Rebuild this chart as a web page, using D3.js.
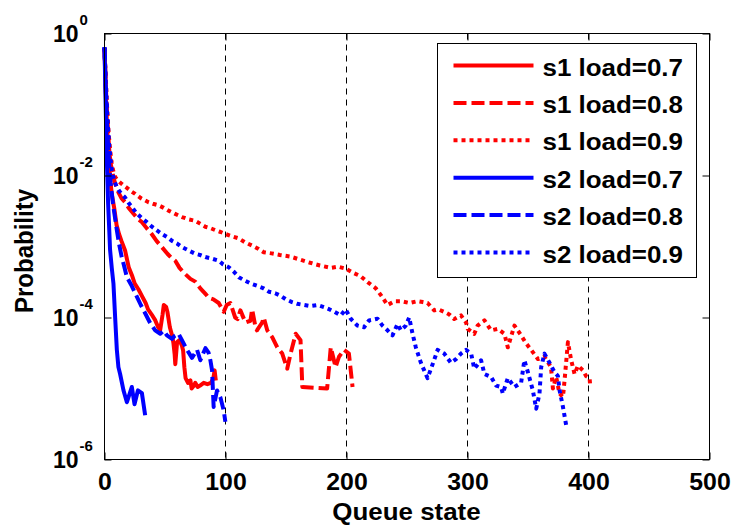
<!DOCTYPE html>
<html>
<head>
<meta charset="utf-8">
<script src="https://cdn.jsdelivr.net/npm/d3@7"></script>
<style>
  body { margin: 0; background: #fff; }
  svg text { font-family: Arial, "Liberation Sans", sans-serif; font-weight: bold; fill: #000; }
</style>
</head>
<body>
<div id="chart"></div>
<script>
// stationary queue distributions: [queue state, probability]
var s1Load07 = [[0,0.62],[1,0.15],[2,0.055],[3,0.025],[4,0.013],[5,8e-3],[6,5.5e-3],[8,3.5e-3],[10,2e-3],
  [12,1.5e-3],[14,1.2e-3],[17,8.8e-4],[20,5.1e-4],[23,3.8e-4],[25,3e-4],[28,2.5e-4],[31,2e-4],[34,1.6e-4],
  [36,1.3e-4],[39,1.1e-4],[42,9.1e-5],[44,7.5e-5],[46,6.6e-5],[48,1.1e-4],[49,1.5e-4],[51,1.4e-4],[52,1.2e-4],
  [54,7.3e-5],[56,5.5e-5],[57,4.3e-5],[58,3e-5],[58.5,2.2e-5],[60,4.5e-5],[62,4.8e-5],[64,4e-5],[65,3.4e-5],
  [66,2e-5],[67,1.4e-5],[69,1.2e-5],[71,1.3e-5],[72,1e-5],[74,1.1e-5],[75,1.2e-5],[77,1.05e-5],[79,1.1e-5],
  [82,1.2e-5],[85,1.15e-5],[88,1.2e-5],[90,1.4e-5],[91,1.8e-5],[92,1.3e-5]];

var s1Load08 = [[0,0.62],[1,0.2],[2,0.08],[3,0.04],[4,0.022],[5,0.015],[7,0.01],[9,7.5e-3],[11.5,5.8e-3],
  [14,4.8e-3],[17,4.2e-3],[20,3.5e-3],[24,2.9e-3],[28,2.4e-3],[31,2.2e-3],[35,1.8e-3],[39,1.5e-3],[43,1.2e-3],
  [47,1e-3],[52,7.9e-4],[55,7e-4],[58.5,6.3e-4],[62,5e-4],[66,4.2e-4],[71,3.5e-4],[75,3.2e-4],[79,2.6e-4],
  [84,2.1e-4],[86,1.9e-4],[90,1.8e-4],[94.4,1.6e-4],[98.5,1.2e-4],[101,1.5e-4],[104,1.6e-4],[108,1e-4],
  [110,9.5e-5],[112.3,1.26e-4],[116.5,8.5e-5],[120.6,9e-5],[122,1.3e-4],[124.8,7.3e-5],[126,6.6e-5],
  [130.3,8.5e-5],[131.6,1e-4],[134.5,6.6e-5],[138.6,5.3e-5],[142.8,3.8e-5],[146.9,3.1e-5],[151,1.9e-5],
  [153.8,3.1e-5],[158,5.9e-5],[162,4.8e-5],[163.5,1.05e-5],[184,1e-5],[187,3.8e-5],[191,2e-5],[193.8,2.8e-5],
  [198,3.5e-5],[202,3.1e-5],[205,1.05e-5]];

var s1Load09 = [[0,0.62],[1,0.25],[2,0.1],[3,0.05],[4,0.03],[5,0.02],[6,0.015],[7,0.012],[8.8,9.5e-3],
  [11,8.5e-3],[14.3,7.6e-3],[18,6.8e-3],[22,6e-3],[25.4,5.5e-3],[30,4.8e-3],[36.4,4.2e-3],[40,4e-3],
  [44.7,3.8e-3],[49,3.5e-3],[52.9,3.2e-3],[58,2.9e-3],[64,2.6e-3],[70,2.4e-3],[75,2.3e-3],[79,2.1e-3],
  [83.3,1.9e-3],[88,1.8e-3],[91.6,1.7e-3],[96,1.6e-3],[99.9,1.5e-3],[105,1.4e-3],[111,1.3e-3],[116,1.15e-3],
  [122,1.03e-3],[127,9.3e-4],[131.6,8.3e-4],[138,8e-4],[145,7.6e-4],[153.8,7.2e-4],[162,6.5e-4],[170,5.9e-4],
  [178,5.4e-4],[187,5e-4],[193,5.2e-4],[199,4.9e-4],[205,4.3e-4],[211.8,3.8e-4],[218,3.1e-4],[224,2.6e-4],
  [229,2e-4],[233.9,1.5e-4],[240,1.7e-4],[245,1.7e-4],[252,1.6e-4],[258.7,1.7e-4],[263,1.65e-4],[267,1.6e-4],
  [272.5,1.26e-4],[276,1.3e-4],[280.8,1.2e-4],[285,1.1e-4],[289,9.5e-5],[294.6,1.07e-4],[298.8,8.5e-5],
  [300.2,6.9e-5],[305.6,5.9e-5],[308.4,7.7e-5],[314,9.1e-5],[319.5,6.6e-5],[325,6.9e-5],[330.5,5.9e-5],
  [333.3,3.8e-5],[338.8,7.7e-5],[344.3,5.6e-5],[348.5,4.3e-5],[352.6,3.5e-5],[358.2,2.6e-5],[363.6,2.8e-5],
  [369,2e-5],[370.6,1e-5],[373.3,1.45e-5],[376,8.5e-6],[378.9,7.6e-6],[380.2,1.3e-5],[383,4.5e-5],
  [385.7,2.5e-5],[388.5,1.6e-5],[391.3,2.1e-5],[395.4,1.8e-5],[398,1.5e-5],[400.9,1.4e-5],[401.5,1.05e-5]];

var s2Load07 = [[0,0.64],[1,0.09],[2,0.015],[3,4e-3],[4,1.6e-3],[4.6,9e-4],[6,5e-4],[7.4,3e-4],[8.8,1e-4],
  [10.2,3.5e-5],[11.5,2e-5],[12.9,1.6e-5],[15.7,9.4e-6],[18.5,6.4e-6],[21.2,8.9e-6],[22.6,1.05e-5],
  [24.8,6e-6],[27.6,9.4e-6],[30.9,8.6e-6],[33.6,4.2e-6]];

var s2Load08 = [[0,0.64],[1,0.18],[2,0.06],[3,0.025],[4,0.013],[5,8e-3],[7,4e-3],[10.2,1.7e-3],[12,1.1e-3],
  [14.3,7e-4],[16,5.5e-4],[18.5,3.7e-4],[22,2.9e-4],[25.4,2.2e-4],[30,1.5e-4],[33.6,1.15e-4],[37.8,8.3e-5],
  [41.9,6.6e-5],[46.1,5.9e-5],[49,6.5e-5],[51.6,5.6e-5],[55.8,5e-5],[58,5.5e-5],[61.2,5.9e-5],[64,4.8e-5],
  [68.2,3.5e-5],[72.3,2.7e-5],[76.5,3.5e-5],[79.2,2.5e-5],[83.4,3.7e-5],[86,3.2e-5],[87.5,2.5e-5],
  [88.9,1.8e-5],[90.2,5.5e-6],[93,9.4e-6],[95.8,7.5e-6],[98.5,4.9e-6],[99.9,3.4e-6]];

var s2Load09 = [[0,0.64],[1,0.22],[2,0.09],[3,0.045],[4,0.025],[5,0.017],[6,0.012],[8,8.5e-3],[10,7e-3],
  [12,6.1e-3],[14,5.5e-3],[17,4.9e-3],[20,4.1e-3],[22.6,3.6e-3],[26,3e-3],[30.9,2.5e-3],[35,2.2e-3],
  [39.2,1.9e-3],[43,1.7e-3],[47.5,1.5e-3],[52,1.35e-3],[55.8,1.2e-3],[60,1.1e-3],[64,9.8e-4],[70,8.7e-4],
  [75,7.9e-4],[79,7.6e-4],[83.3,7.1e-4],[88,6.8e-4],[94.4,6.3e-4],[98,5.6e-4],[102.7,5.1e-4],[107,4.4e-4],
  [111,3.7e-4],[116,3.3e-4],[121,3e-4],[126,2.8e-4],[131,2.6e-4],[136,2.3e-4],[141,2.2e-4],[146,2e-4],
  [150,1.8e-4],[155,1.65e-4],[159.3,1.56e-4],[165,1.5e-4],[170,1.45e-4],[176,1.5e-4],[181.4,1.4e-4],
  [186,1.3e-4],[190,1.2e-4],[195.2,1.07e-4],[199.3,1.3e-4],[203.5,9.6e-5],[209,7.7e-5],[214.5,7.3e-5],
  [218.6,9.1e-5],[222,9.3e-5],[225.6,9.6e-5],[229.7,7.7e-5],[233.9,6.6e-5],[238,5.6e-5],[242.2,8.1e-5],
  [245,6.6e-5],[249,7.7e-5],[251.8,1e-4],[254.6,5.9e-5],[257.3,3.8e-5],[261.5,2.3e-5],[264.2,1.8e-5],
  [267,1.4e-5],[271.2,2.2e-5],[275.3,3.5e-5],[280.8,3.1e-5],[286.3,2.3e-5],[290.5,2.6e-5],[294.6,3.1e-5],
  [298.8,3.5e-5],[303,3.1e-5],[305.6,1.9e-5],[311.2,2.5e-5],[314,1.6e-5],[319.5,1.45e-5],[323.6,1.1e-5],
  [327.7,1.05e-5],[329.2,8.5e-6],[333.3,1.4e-5],[338.8,1.05e-5],[344.3,1.2e-5],[347,2.5e-5],[349.9,1.7e-5],
  [354,9.4e-6],[356.8,5.2e-6],[359.5,8.5e-6],[360.9,2e-5],[363.6,3.1e-5],[367.8,2.3e-5],[371.9,1.7e-5],
  [374.7,1.5e-5],[376.1,9.4e-6],[378.9,5.5e-6],[381.6,3e-6]];

var seriesNames = ["s1 load=0.7", "s1 load=0.8", "s1 load=0.9", "s2 load=0.7", "s2 load=0.8", "s2 load=0.9"];
var xTickValues = [0, 100, 200, 300, 400, 500];
var yTickValues = [1e-6, 1e-4, 1e-2, 1];

var allSeries = [s1Load07, s1Load08, s1Load09, s2Load07, s2Load08, s2Load09];

// colour + dash pattern per series (solid / dashed / dotted)
var lineStyles = [
  {color: "#ff0000", dash: null},
  {color: "#ff0000", dash: "13,5"},
  {color: "#ff0000", dash: "4,4"},
  {color: "#0000ff", dash: null},
  {color: "#0000ff", dash: "13,5"},
  {color: "#0000ff", dash: "4,4"}
];

var svgWidth = 733;
var svgHeight = 529;
var margin = {top: 33, right: 24, bottom: 70, left: 104};
var width = svgWidth - margin.left - margin.right;
var height = svgHeight - margin.top - margin.bottom;
var stretch = 1.08;

var svg = d3.select("#chart").append("svg")
  .attr("width", svgWidth)
  .attr("height", svgHeight);

svg.append("rect").attr("width", svgWidth).attr("height", svgHeight).attr("fill", "#fff");

// half-pixel offset keeps 1px frame and ticks sharp
var chartGroup = svg.append("g")
  .attr("transform", `translate(${margin.left + 0.5}, ${margin.top + 0.5})`);

var xScale = d3.scaleLinear().domain([0, 500]).range([0, width]);
var yScale = d3.scaleLog().domain([1e-6, 1]).range([height, 0]);

// vertical dashed grid lines
chartGroup.selectAll(".grid")
  .data(xTickValues.filter(v => v > xScale.domain()[0] && v < xScale.domain()[1]))
  .enter()
  .append("line")
  .attr("class", "grid")
  .attr("x1", d => Math.round(xScale(d))).attr("x2", d => Math.round(xScale(d)))
  .attr("y1", 0).attr("y2", height)
  .attr("stroke", "#000")
  .attr("stroke-width", 1)
  .attr("stroke-dasharray", "6,5");

// curves
var line = d3.line()
  .x(d => xScale(d[0]))
  .y(d => yScale(d[1]));

chartGroup.selectAll(".curve")
  .data(allSeries)
  .enter()
  .append("path")
  .attr("class", "curve")
  .attr("d", line)
  .attr("fill", "none")
  .attr("stroke", (d, i) => lineStyles[i].color)
  .attr("stroke-width", 4)
  .attr("stroke-linejoin", "round")
  .attr("stroke-dasharray", (d, i) => lineStyles[i].dash);

// frame
chartGroup.append("rect")
  .attr("width", width).attr("height", height)
  .attr("fill", "none").attr("stroke", "#000").attr("stroke-width", 1);

// ticks point inward on all four sides
var bottomAxis = chartGroup.append("g")
  .attr("transform", `translate(0, ${height})`)
  .call(d3.axisBottom(xScale).tickValues(xTickValues).tickSize(-7).tickFormat(d3.format("d")));
bottomAxis.select(".domain").remove();
bottomAxis.selectAll("text")
  .attr("y", 31).attr("dy", null)
  .attr("transform", `scale(${stretch},1)`)
  .style("font-size", "23px");

var topAxis = chartGroup.append("g")
  .call(d3.axisTop(xScale).tickValues(xTickValues).tickSize(-7).tickFormat(""));
topAxis.select(".domain").remove();

var rightAxis = chartGroup.append("g")
  .attr("transform", `translate(${width}, 0)`)
  .call(d3.axisRight(yScale).tickValues(yTickValues).tickSize(-7).tickFormat(""));
rightAxis.select(".domain").remove();

var leftAxis = chartGroup.append("g")
  .call(d3.axisLeft(yScale).tickValues(yTickValues).tickSize(-7).tickFormat(""));
leftAxis.select(".domain").remove();

// y labels as 10 with a superscript exponent
leftAxis.selectAll(".tick").each(function (d) {
  var tick = d3.select(this);
  tick.append("text")
    .attr("x", -26).attr("y", 8)
    .attr("text-anchor", "end")
    .style("font-size", "23px")
    .text("10");
  tick.append("text")
    .attr("x", -25).attr("y", -9)
    .attr("text-anchor", "start")
    .style("font-size", "15px")
    .text(Math.round(Math.log10(d)));
});

// axis titles
svg.append("text")
  .attr("transform", `translate(${margin.left + width / 2}, 520) scale(${stretch},1)`)
  .attr("text-anchor", "middle")
  .style("font-size", "24px")
  .text("Queue state");

svg.append("text")
  .attr("transform", `translate(33, ${margin.top + height / 2 + 5}) scale(${stretch},1) rotate(-90)`)
  .attr("text-anchor", "middle")
  .style("font-size", "24px")
  .text("Probability");

// legend
var legend = svg.append("g").attr("transform", "translate(437.5, 43.5)");
legend.append("rect")
  .attr("width", 259).attr("height", 234)
  .attr("fill", "#fff").attr("stroke", "#000").attr("stroke-width", 1);

var rows = legend.selectAll(".row")
  .data(seriesNames)
  .enter()
  .append("g")
  .attr("class", "row")
  .attr("transform", (d, i) => `translate(0, ${22 + i * 37.4})`);

rows.append("line")
  .attr("x1", 16).attr("x2", 96)
  .attr("stroke", (d, i) => lineStyles[i].color)
  .attr("stroke-width", 4)
  .attr("stroke-dasharray", (d, i) => lineStyles[i].dash);

rows.append("text")
  .attr("transform", `translate(105, 10) scale(${stretch},1)`)
  .style("font-size", "24px")
  .text(d => d);
</script>
</body>
</html>
